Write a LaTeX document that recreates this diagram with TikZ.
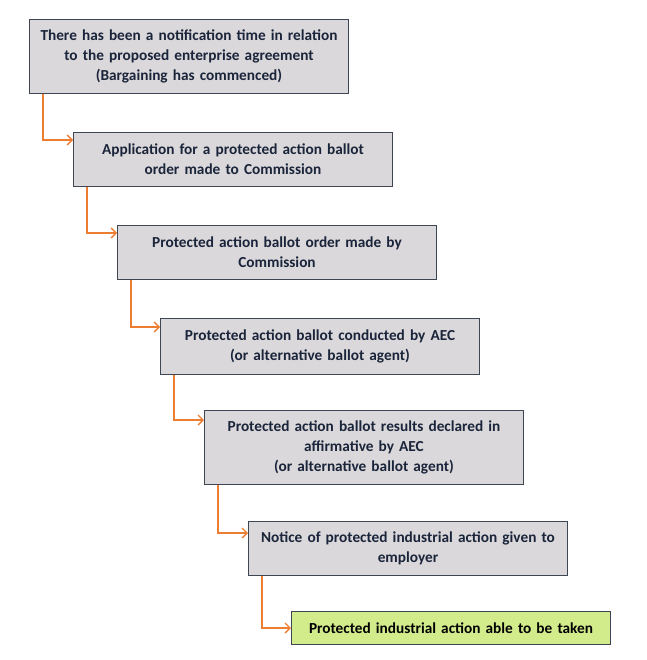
\documentclass[tikz,border=0pt]{standalone}
\usepackage{fontspec}
\setmainfont{Carlito}
\usetikzlibrary{positioning,arrows.meta}
\definecolor{boxgray}{RGB}{218,216,218}
\definecolor{boxedge}{RGB}{62,70,84}
\definecolor{inkblue}{RGB}{26,36,58}
\definecolor{linkorange}{RGB}{237,125,49}
\definecolor{donegreen}{RGB}{210,236,140}
\begin{document}
\begin{tikzpicture}[x=1pt,y=1pt,>={Straight Barb[length=5pt,width=10pt]},
    stage/.style={draw=boxedge,line width=1pt,fill=boxgray,text=inkblue,
      font=\bfseries\fontsize{15.3}{20}\selectfont,align=center,
      minimum width=319pt,text width=315pt,inner sep=0pt},
    final/.style={stage,fill=donegreen,text=black},
    link/.style={draw=linkorange,line width=1.3pt,->}]
  \useasboundingbox (0,0) rectangle (646,-660);
  % steps
  \node[stage,minimum height=74pt,anchor=north west] (b1) at (29,-19)
    {There has been a notification time in relation\\to the proposed enterprise agreement\\(Bargaining has commenced)};
  \node[stage,minimum height=54pt,below right=38pt and 44pt of b1.south west] (b2)
    {Application for a protected action ballot\\order made to Commission};
  \node[stage,minimum height=54pt,below right=38pt and 44pt of b2.south west] (b3)
    {Protected action ballot order made by\\Commission};
  \node[stage,minimum height=56pt,below right=38pt and 43pt of b3.south west] (b4)
    {Protected action ballot conducted by AEC\\(or alternative ballot agent)};
  \node[stage,minimum height=74pt,below right=35pt and 44pt of b4.south west] (b5)
    {Protected action ballot results declared in\\affirmative by AEC\\(or alternative ballot agent)};
  \node[stage,minimum height=54pt,below right=36pt and 44pt of b5.south west] (b6)
    {Notice of protected industrial action given to\\employer};
  \node[final,minimum height=33pt,below right=35pt and 43pt of b6.south west] (b7)
    {Protected industrial action able to be taken};
  % connectors
  \draw[link] ([xshift=14pt]b1.south west) |- ([yshift=-8pt]b2.north west);
  \draw[link] ([xshift=14pt]b2.south west) |- ([yshift=-8pt]b3.north west);
  \draw[link] ([xshift=14pt]b3.south west) |- ([yshift=-9pt]b4.north west);
  \draw[link] ([xshift=14pt]b4.south west) |- ([yshift=-10pt]b5.north west);
  \draw[link] ([xshift=14pt]b5.south west) |- ([yshift=-12pt]b6.north west);
  \draw[link] ([xshift=14pt]b6.south west) |- (b7.west);
\end{tikzpicture}
\end{document}
